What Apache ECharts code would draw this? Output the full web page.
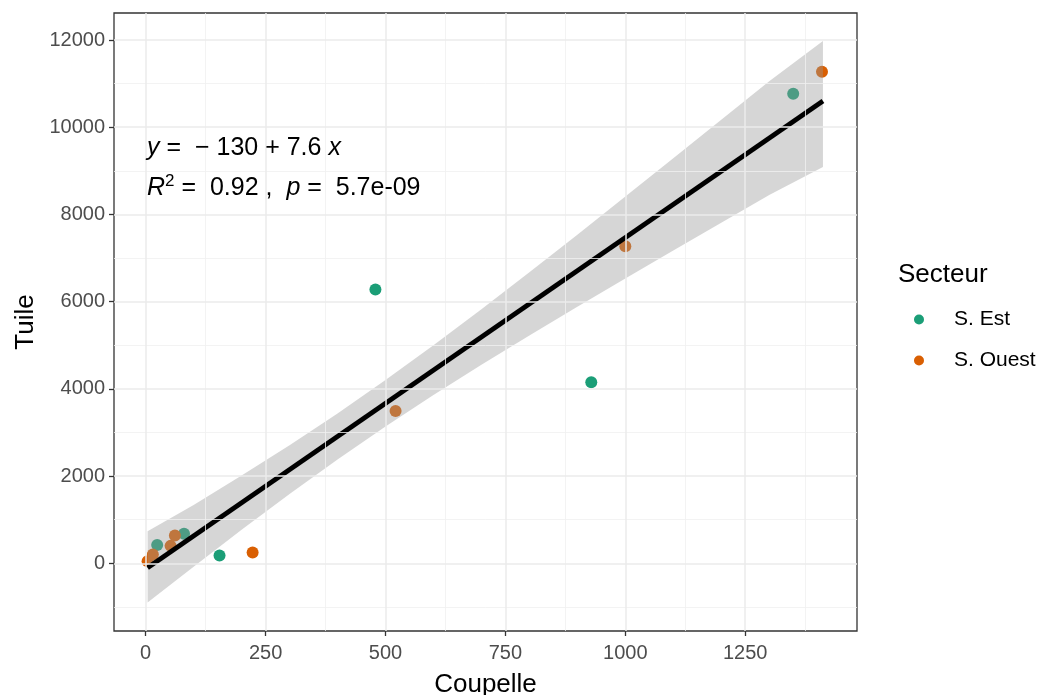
<!DOCTYPE html>
<html>
<head>
<meta charset="utf-8">
<script src="https://cdn.jsdelivr.net/npm/echarts@6/dist/echarts.min.js"></script>
<style>
  html, body { margin: 0; padding: 0; background: #ffffff; }
  #chart { width: 1042px; height: 695px; }
</style>
</head>
<body>
<div id="chart"></div>
<script>
// Coupelle vs Tuile counts, by sector
const estCoupelle   = [24, 80, 154, 479, 929, 1350];
const estTuile      = [420, 680, 180, 6280, 4150, 10770];
const ouestCoupelle = [4, 15, 52, 61, 223, 521, 1000, 1410];
const ouestTuile    = [50, 200, 400, 640, 250, 3490, 7270, 11270];

// Linear fit printed on the chart, and its 95% confidence band
const fitIntercept = -130;
const fitSlope = 7.6;
const fitRange = [4, 1412];
const bandX     = [4, 100, 200, 300, 400, 500, 600, 700, 800, 900, 1000, 1100, 1200, 1300, 1412];
const bandLower = [-900, -76, 768, 1590, 2382, 3139, 3860, 4553, 5225, 5883, 6531, 7173, 7810, 8444, 9090];
const bandUpper = [735, 1336, 2012, 2710, 3438, 4201, 5000, 5827, 6675, 7537, 8409, 9287, 10170, 11056, 11975];

// Axis breaks
const xTicks = [0, 250, 500, 750, 1000, 1250];
const xMinor = [125, 375, 625, 875, 1125, 1375];
const yTicks = [0, 2000, 4000, 6000, 8000, 10000, 12000];
const yMinor = [-1000, 1000, 3000, 5000, 7000, 9000, 11000];

const FONT = 'Liberation Sans, Arial, sans-serif';
const GREEN = '#1B9E77';
const ORANGE = '#D95F02';

const zip = (xs, ys) => xs.map((x, i) => [x, ys[i]]);
const fitLine = fitRange.map(x => [x, fitIntercept + fitSlope * x]);

const majorStyle = { color: '#EBEBEB', width: 1.5, type: 'solid' };
const minorStyle = { color: '#F0F0F0', width: 0.8, type: 'solid' };
const gridLines = [].concat(
  xMinor.map(v => ({ xAxis: v, lineStyle: minorStyle })),
  yMinor.map(v => ({ yAxis: v, lineStyle: minorStyle })),
  xTicks.map(v => ({ xAxis: v, lineStyle: majorStyle })),
  yTicks.map(v => ({ yAxis: v, lineStyle: majorStyle }))
);

const plainNumber = v => String(v);

const chart = echarts.init(document.getElementById('chart'), null, { renderer: 'canvas' });

chart.setOption({
  animation: false,
  backgroundColor: '#ffffff',
  grid: {
    left: 114, right: 185, top: 13, bottom: 64,
    outerBoundsMode: 'none',
    containLabel: false,
    show: true, backgroundColor: '#ffffff',
    borderColor: '#333333', borderWidth: 1.3
  },
  xAxis: {
    type: 'value', min: -66, max: 1483,
    axisLine: { show: false, onZero: false },
    splitLine: { show: false },
    axisTick: { show: true, length: 5, customValues: xTicks, lineStyle: { color: '#333333', width: 1.3 } },
    axisLabel: { customValues: xTicks, formatter: plainNumber, color: '#4D4D4D', fontSize: 20, fontFamily: FONT, margin: 12 },
    name: 'Coupelle', nameLocation: 'middle', nameGap: 41,
    nameTextStyle: { color: '#000000', fontSize: 26, fontFamily: FONT }
  },
  yAxis: {
    type: 'value', min: -1552, max: 12619,
    axisLine: { show: false, onZero: false },
    splitLine: { show: false },
    axisTick: { show: true, length: 5, customValues: yTicks, lineStyle: { color: '#333333', width: 1.3 } },
    axisLabel: { customValues: yTicks, formatter: plainNumber, color: '#4D4D4D', fontSize: 20, fontFamily: FONT, margin: 9 },
    name: 'Tuile', nameLocation: 'middle', nameGap: 70,
    nameTextStyle: { color: '#000000', fontSize: 26, fontFamily: FONT }
  },
  legend: {
    orient: 'vertical', left: 909, top: 304,
    data: ['S. Est', 'S. Ouest'],
    icon: 'circle', itemWidth: 60, itemHeight: 10, itemGap: 20,
    symbolKeepAspect: true,
    textStyle: { color: '#000000', fontSize: 21, fontFamily: FONT, lineHeight: 20 }
  },
  graphic: [
    {
      type: 'text', left: 898, top: 262, z: 100,
      style: { text: 'Secteur', fill: '#000000', font: '26px ' + FONT }
    },
    {
      type: 'text', left: 147, top: 136, z: 100,
      style: {
        text: '{i|y}{n| =  − 130 + 7.6 }{i|x}',
        rich: {
          i: { fontStyle: 'italic', fontSize: 25, fontFamily: FONT, fill: '#000', lineHeight: 30 },
          n: { fontSize: 25, fontFamily: FONT, fill: '#000', lineHeight: 30 }
        }
      }
    },
    {
      type: 'text', left: 147, top: 173, z: 100,
      style: {
        text: '{i|R}{s|2}{n| =  0.92 ,  }{i|p}{n| =  5.7e-09}',
        rich: {
          i: { fontStyle: 'italic', fontSize: 25, fontFamily: FONT, fill: '#000', lineHeight: 30 },
          s: { fontSize: 17, fontFamily: FONT, fill: '#000', lineHeight: 30, verticalAlign: 'top', padding: [0, 0, 10, 0] },
          n: { fontSize: 25, fontFamily: FONT, fill: '#000', lineHeight: 30 }
        }
      }
    }
  ],
  series: [
    {
      // panel grid lines (major + minor)
      type: 'line', data: [], z: 1, silent: true,
      markLine: {
        silent: true, symbol: ['none', 'none'], animation: false,
        label: { show: false }, emphasis: { disabled: true },
        data: gridLines
      }
    },
    {
      name: 'S. Est', type: 'scatter', z: 2,
      data: zip(estCoupelle, estTuile),
      symbolSize: 12, itemStyle: { color: GREEN, opacity: 1 }
    },
    {
      name: 'S. Ouest', type: 'scatter', z: 2,
      data: zip(ouestCoupelle, ouestTuile),
      symbolSize: 12, itemStyle: { color: ORANGE, opacity: 1 }
    },
    {
      // confidence band drawn over the points
      name: 'band', type: 'custom', z: 3, silent: true,
      data: [[bandX[0], bandLower[0]]],
      renderItem: function (params, api) {
        const pts = [];
        for (let i = 0; i < bandX.length; i++) pts.push(api.coord([bandX[i], bandUpper[i]]));
        for (let i = bandX.length - 1; i >= 0; i--) pts.push(api.coord([bandX[i], bandLower[i]]));
        return { type: 'polygon', shape: { points: pts }, style: { fill: 'rgba(153,153,153,0.4)' } };
      }
    },
    {
      name: 'fit', type: 'line', z: 4, silent: true,
      data: fitLine, symbol: 'none',
      lineStyle: { color: '#000000', width: 4.8 }
    }
  ]
});
</script>
</body>
</html>
